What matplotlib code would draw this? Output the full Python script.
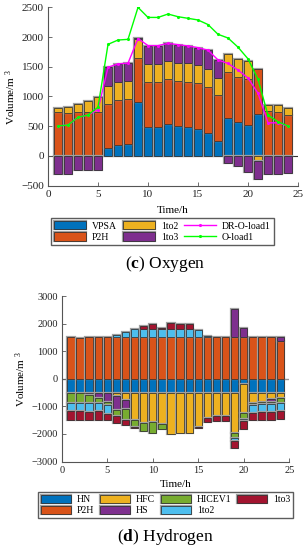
import numpy as np
import matplotlib.pyplot as plt
from matplotlib import patheffects as pe

plt.rcParams['font.family'] = ['Liberation Serif', 'DejaVu Serif']
plt.rcParams['mathtext.fontset'] = 'custom'
plt.rcParams['mathtext.rm'] = 'Liberation Serif'
plt.rcParams['mathtext.bf'] = 'Liberation Serif:bold'
plt.rcParams['mathtext.it'] = 'Liberation Serif:italic'

hours = np.arange(1, 25)

# (c) Oxygen
o_vpsa = [0, 0, 0, 0, 0, 130, 185, 200, 900, 490, 490, 535, 510, 485, 455, 392, 258, 645, 570, 525, 700, 20, 0, 0]
o_p2h = [740, 725, 740, 745, 745, 750, 760, 760, 755, 755, 755, 755, 750, 765, 765, 762, 762, 760, 765, 765, 757, 737, 745, 684]
o_1to2 = [65, 90, 130, 177, 245, 300, 300, 300, 305, 300, 300, 305, 305, 305, 305, 302, 297, 303, 302, 302, -85, 100, 112, 117]
o_1to3 = [-305, -305, -235, -235, -235, 310, 300, 300, 20, 310, 310, 300, 307, 295, 297, 324, 303, -120, -167, -272, -298, -300, -300, -295]
dr_o_load1 = [504, 521, 650, 689, 780, 1490, 1550, 1560, 1975, 1856, 1856, 1894, 1872, 1850, 1822, 1778, 1615, 1555, 1445, 1310, 1055, 557, 557, 504]
o_load1 = [504, 521, 650, 689, 820, 1877, 1950, 1961, 2499, 2330, 2330, 2387, 2342, 2315, 2287, 2210, 2046, 1984, 1830, 1633, 1290, 686, 575, 502]

# (d) Hydrogen
h_hn = [-500] * 19 + [-200] + [-500] * 4
h_p2h = [1500, 1470] + [1500] * 21 + [1365]
h_hfc = [0, 0, 0, 0, 0, -130, -270, -1000, -1095, -1058, -1143, -1505, -1480, -1480, -1240, -925, -853, -853, -1457, -1032, -370, -340, -250, -215]
h_hs = [0, 0, -75, -200, -345, -505, -315, 0, 0, 0, 0, 0, 0, 0, 0, 0, 0, 0, 1030, 355, 0, 0, -105, 145]
h_hicev1 = [-375, -380, -315, -170, -95, -220, -410, -242, -313, -423, -193, 0, 0, 0, 0, 0, 0, 0, -205, -245, -95, -90, -70, -155]
h_1to2 = [-310, -300, -314, -314, -340, 100, 180, 320, 307, 307, 307, 307, 307, 307, 283, 66, 0, 0, -80, -50, -265, -270, -290, -300]
h_1to3 = [-315, -310, -290, -300, -218, -266, -193, -48, 97, 165, 50, 215, 170, 170, -30, -133, -169, -169, -280, -290, -280, -280, -280, -280]

blue, orange, yellow, purple = '#0072BD', '#D95319', '#EDB120', '#7E2F8E'
green, lblue, dred = '#77AC30', '#4DBEEE', '#A2142F'


def stacked(ax, series, colors, labels):
    pos = np.zeros(len(hours))
    neg = np.zeros(len(hours))
    handles = []
    for vals, c, lab in zip(series, colors, labels):
        v = np.asarray(vals, float)
        bottom = np.where(v >= 0, pos, neg)
        m = v != 0
        b = ax.bar(hours[m], v[m], 0.8, bottom=bottom[m], color=c,
                   edgecolor='#222222', linewidth=0.5, label=lab, zorder=2)
        for r in b:
            r.set_path_effects([pe.withStroke(linewidth=1.6, foreground='#a0a0a0')])
        pos += np.clip(v, 0, None)
        neg += np.clip(v, None, 0)
        handles.append(b)
    return handles


def style(ax, ylim, yticks, fs, lpad):
    ax.set_xlim(0, 25)
    ax.set_ylim(*ylim)
    ax.set_xticks([0, 5, 10, 15, 20, 25])
    ax.set_yticks(yticks)
    for s in ['top', 'right']:
        ax.spines[s].set_visible(False)
    for s in ['left', 'bottom']:
        ax.spines[s].set_color('#555555')
        ax.spines[s].set_linewidth(0.8)
    ax.tick_params(direction='in', length=3, width=0.6, color='#555555',
                   labelsize=fs, labelcolor='#222222', pad=3)
    ax.set_xlabel('Time/h', fontsize=8, labelpad=lpad)
    ax.set_ylabel('Volume/m $^{3}$', fontsize=8, labelpad=2)


fig = plt.figure(figsize=(3.07, 5.5), dpi=100)

# oxygen panel
ax1 = fig.add_axes([0.1564, 0.6624, 0.8143, 0.3243])
hs1 = stacked(ax1, [o_vpsa, o_p2h, o_1to2, o_1to3],
              [blue, orange, yellow, purple], ['VPSA', 'P2H', '1to2', '1to3'])
ax1.axhline(0, color='#333333', lw=0.8, zorder=1)
l1, = ax1.plot(hours, dr_o_load1, color='#FF00FF', lw=1.0, marker='.', ms=2.5,
               label='DR-O-load1', zorder=3)
l2, = ax1.plot(hours, o_load1, color='#00FF00', lw=1.0, marker='.', ms=2.5,
               label='O-load1', zorder=4)
style(ax1, (-500, 2500), [-500, 0, 500, 1000, 1500, 2000, 2500], 8, 5)
fig.legend(hs1 + [l1, l2], ['VPSA', 'P2H', '1to2', '1to3', 'DR-O-load1', 'O-load1'],
           ncol=3, loc='center', bbox_to_anchor=(162.5 / 307, 1 - 231.5 / 550),
           fontsize=7, frameon=True, fancybox=False, edgecolor='#333333',
           handlelength=3.3, handleheight=0.9, columnspacing=0.6, handletextpad=0.6,
           borderpad=0.3, labelspacing=0.2, borderaxespad=0)
fig.text(165 / 307, 1 - 264 / 550, r'($\mathbf{c}$) Oxygen', ha='center', va='center', fontsize=12.5)

# hydrogen panel
ax2 = fig.add_axes([0.2013, 0.1609, 0.741, 0.3009])
h_labels = ['HN', 'P2H', 'HFC', 'HS', 'HICEV1', '1to2', '1to3']
hs2 = stacked(ax2, [h_hn, h_p2h, h_hfc, h_hs, h_hicev1, h_1to2, h_1to3],
              [blue, orange, yellow, purple, green, lblue, dred], h_labels)
ax2.axhline(0, color='#999999', lw=1.0, zorder=1)
style(ax2, (-3000, 3000), [-3000, -2000, -1000, 0, 1000, 2000, 3000], 7.5, 4)
fig.legend(hs2, h_labels, ncol=4, loc='center',
           bbox_to_anchor=(165.5 / 307, 1 - 505 / 550),
           fontsize=7, frameon=True, fancybox=False, edgecolor='#333333',
           handlelength=3.1, handleheight=0.9, columnspacing=0.6, handletextpad=0.6,
           borderpad=0.3, labelspacing=0.2, borderaxespad=0)
fig.text(165 / 307, 1 - 537 / 550, r'($\mathbf{d}$) Hydrogen', ha='center', va='center', fontsize=12.5)

fig.savefig('out.png', dpi=100)
